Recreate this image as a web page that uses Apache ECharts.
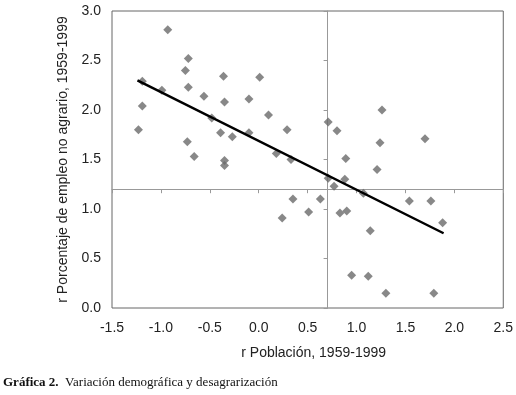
<!DOCTYPE html>
<html>
<head>
<meta charset="utf-8">
<script src="https://cdn.jsdelivr.net/npm/echarts@6/dist/echarts.min.js"></script>
<style>
  html, body { margin: 0; padding: 0; background: #fff; }
  #chart { width: 516px; height: 395px; }
</style>
</head>
<body>
<div id="chart"></div>
<script>
// r Población (x) y r Porcentaje de empleo no agrario (y)
const poblacion = [
  -0.93, -0.72, -0.75, -1.19, -0.36, 0.01, -0.99, -0.72, -0.56, -0.10,
  -0.35, -1.19, 0.10, -0.48, -1.23, 0.29, -0.39, -0.27, -0.10, -0.73,
  0.18, 0.33, -0.66, -0.35, -0.35, 0.35, 0.24, 0.51, 0.63, 0.71,
  0.80, 1.26, 1.24, 1.70, 0.89, 1.21, 0.88, 0.71, 0.77, 1.07,
  0.83, 0.90, 1.54, 1.76, 1.88, 1.14, 0.95, 1.12, 1.30, 1.79
];
const empleo = [
  2.81, 2.52, 2.40, 2.29, 2.34, 2.33, 2.20, 2.23, 2.14, 2.11,
  2.08, 2.04, 1.95, 1.92, 1.80, 1.80, 1.77, 1.73, 1.77, 1.68,
  1.56, 1.50, 1.53, 1.49, 1.44, 1.10, 0.91, 0.97, 1.10, 1.88,
  1.79, 2.00, 1.67, 1.71, 1.51, 1.40, 1.30, 1.31, 1.23, 1.16,
  0.96, 0.98, 1.08, 1.08, 0.86, 0.78, 0.33, 0.32, 0.15, 0.15
];
// recta de tendencia (extremos)
const trendX = [-1.24, 1.89];
const trendY = [2.30, 0.755];
// cruce de ejes
const crossX = 0.7;
const crossY = 1.2;

const xMin = -1.5, xMax = 2.5, yMin = 0, yMax = 3;
const gridLeft = 112, gridRight = 12, gridTop = 11, gridBottom = 87;
const plotW = 516 - gridLeft - gridRight;
const plotH = 395 - gridTop - gridBottom;

const chart = echarts.init(document.getElementById('chart'));

const labelFont = { fontFamily: 'Liberation Sans, Arial, sans-serif', fontSize: 14, color: '#222' };

const option = {
  backgroundColor: '#fff',
  animation: false,
  grid: {
    left: gridLeft, right: gridRight, top: gridTop, bottom: gridBottom,
    show: true, borderColor: '#666', borderWidth: 1, backgroundColor: 'transparent'
  },
  xAxis: [
    {
      type: 'value', min: xMin, max: xMax, interval: 0.5,
      name: 'r Población, 1959-1999', nameLocation: 'middle', nameGap: 38,
      nameTextStyle: Object.assign({ padding: [0, 0, 0, 12] }, labelFont),
      axisLine: { show: false }, axisTick: { show: false }, splitLine: { show: false },
      axisLabel: Object.assign({ margin: 13, formatter: v => v.toFixed(1) }, labelFont)
    },
    {
      type: 'value', min: xMin, max: xMax, interval: 0.5, position: 'bottom',
      offset: -(crossY - yMin) / (yMax - yMin) * plotH,
      axisLine: { show: true, lineStyle: { color: '#999', width: 1 } },
      axisTick: { show: true, length: 4, lineStyle: { color: '#999' } },
      axisLabel: { show: false }, splitLine: { show: false }
    }
  ],
  yAxis: [
    {
      type: 'value', min: yMin, max: yMax, interval: 0.5,
      name: 'r Porcentaje de empleo no agrario, 1959-1999', nameLocation: 'middle', nameGap: 37,
      nameTextStyle: labelFont,
      axisLine: { show: false }, axisTick: { show: false }, splitLine: { show: false },
      axisLabel: Object.assign({ margin: 11, formatter: v => v.toFixed(1) }, labelFont)
    },
    {
      type: 'value', min: yMin, max: yMax, interval: 0.5, position: 'left',
      offset: -(crossX - xMin) / (xMax - xMin) * plotW,
      axisLine: { show: true, lineStyle: { color: '#999', width: 1 } },
      axisTick: { show: true, length: 4, lineStyle: { color: '#999' } },
      axisLabel: { show: false }, splitLine: { show: false }
    }
  ],
  series: [
    {
      type: 'scatter',
      symbol: 'diamond',
      symbolSize: 9,
      itemStyle: { color: '#6a6a6a' },
      data: poblacion.map((x, i) => [x, empleo[i]]),
      z: 3
    },
    {
      type: 'line',
      symbol: 'none',
      lineStyle: { color: '#000', width: 2.5 },
      data: trendX.map((x, i) => [x, trendY[i]]),
      z: 4
    }
  ],
  graphic: [
    {
      type: 'text', left: 3, top: 376,
      style: {
        text: '{b|Gráfica 2.}  Variación demográfica y desagrarización',
        fontFamily: 'Liberation Serif, Times New Roman, serif', fontSize: 13, fill: '#111',
        rich: { b: { fontWeight: 'bold', fontFamily: 'Liberation Serif, Times New Roman, serif', fontSize: 13 } }
      }
    }
  ]
};

chart.setOption(option);
</script>
</body>
</html>
